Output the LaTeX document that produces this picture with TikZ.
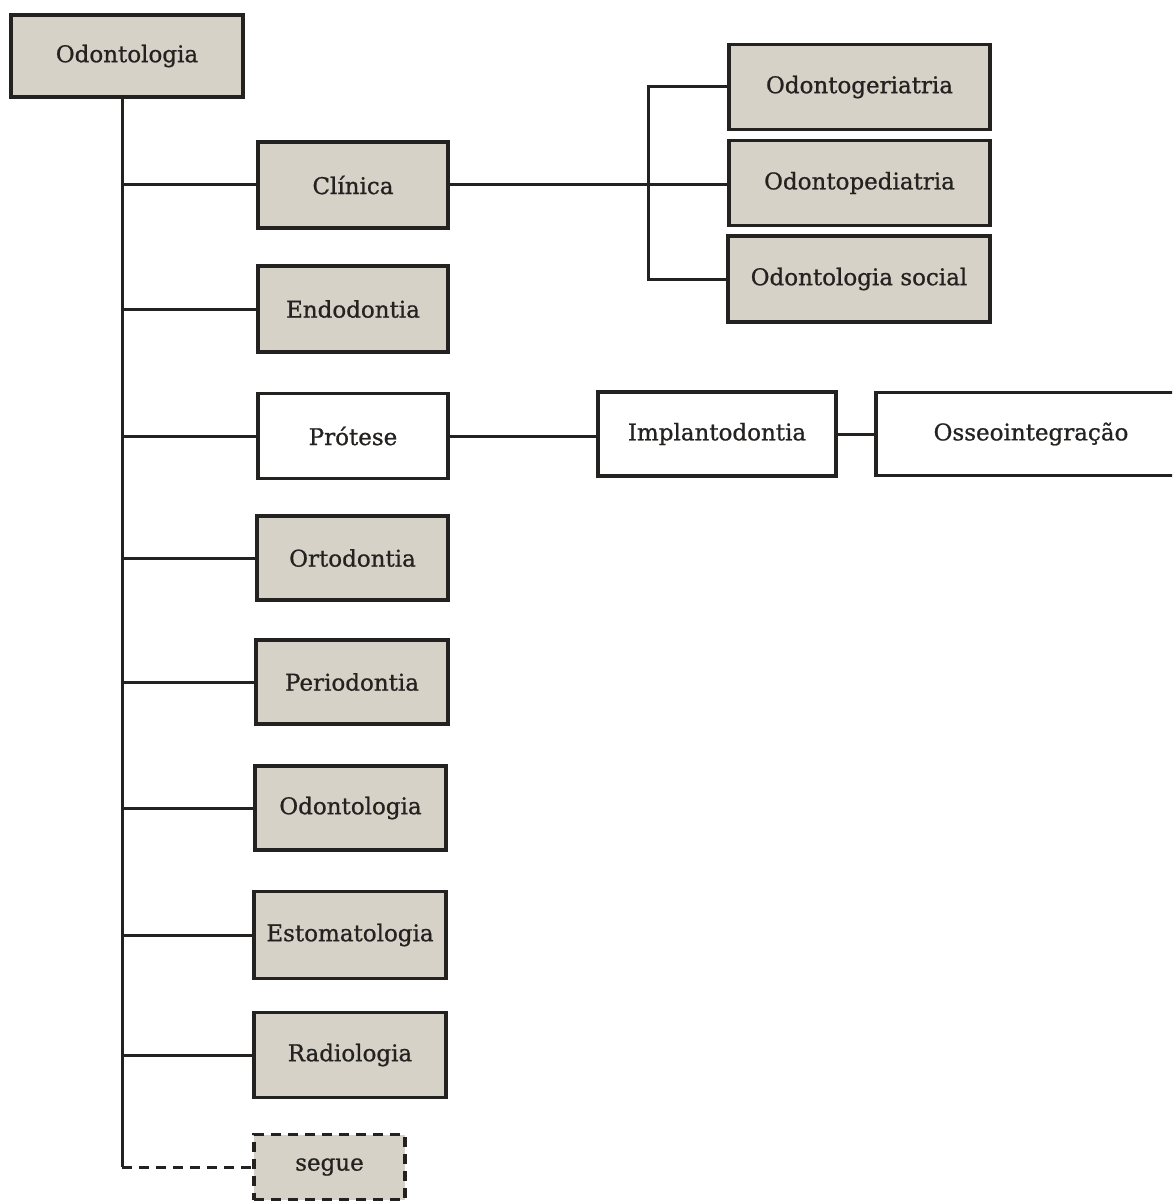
\documentclass[tikz,border=0pt]{standalone}
\usepackage{fontspec}
\setmainfont{DejaVu Serif}
\newfontfamily\boxfont[FakeBold=0.9]{DejaVu Serif}
\definecolor{boxgray}{RGB}{214,210,200}
\definecolor{inkc}{RGB}{36,34,32}
\begin{document}
\begin{tikzpicture}[x=1pt,y=-1pt,
  box/.style={draw=inkc, line width=3.2pt, fill=boxgray, inner sep=0pt,
    font=\boxfont\fontsize{23}{26}\selectfont, text=inkc},
  wbox/.style={box, fill=white},
  conn/.style={draw=inkc, line width=3pt}]
\fill[white] (0,0) rectangle (1172,1201);
\clip (0,0) rectangle (1172,1201);
% root
\node[box, minimum width=232pt, minimum height=82pt] (root) at (127,56) {Odontologia};
% left column
\node[box, minimum width=190pt, minimum height=86pt] (clin) at (353,185) {Clínica};
\node[box, minimum width=190pt, minimum height=86pt] (endo) at (353,309) {Endodontia};
\node[wbox, minimum width=190pt, minimum height=85pt] (prot) at (353,436) {Prótese};
\node[box, minimum width=191pt, minimum height=84pt] (orto) at (352.5,558) {Ortodontia};
\node[box, minimum width=192pt, minimum height=84pt] (peri) at (352,682) {Periodontia};
\node[box, minimum width=191pt, minimum height=84pt] (odo2) at (350.5,808) {Odontologia};
\node[box, minimum width=192pt, minimum height=87pt] (esto) at (350,935) {Estomatologia};
\node[box, minimum width=192pt, minimum height=85pt] (radi) at (350,1055) {Radiologia};
\node[box, dash pattern=on 10pt off 7pt, minimum width=151pt, minimum height=65pt] (segue) at (329.5,1167) {segue};
% right column
\node[box, minimum width=261pt, minimum height=85pt] (ger) at (859.5,87) {Odontogeriatria};
\node[box, minimum width=261pt, minimum height=85pt] (ped) at (859.5,183) {Odontopediatria};
\node[box, minimum width=262pt, minimum height=86pt] (soc) at (859,279) {Odontologia social};
\node[wbox, minimum width=238pt, minimum height=84pt] (impl) at (717,434) {Implantodontia};
\node[wbox, minimum width=310pt, minimum height=83pt] (osse) at (1031,434) {Osseointegração};
% trunk
\coordinate (tr) at (122,0);
\coordinate (br) at (648,0);
\draw[conn] (root.south -| tr) -- (tr |- segue.west);
\foreach \n in {clin,endo,prot,orto,peri,odo2,esto,radi}
  \draw[conn] (tr |- \n.west) -- (\n.west);
\draw[conn, dash pattern=on 10pt off 7pt] (tr |- segue.west) -- (segue.west);
% clinica branch
\draw[conn] (clin.east) -- (clin.east -| ped.west);
\draw[conn] (ger.west) -- (ger.west -| br) -- (soc.west -| br) -- (soc.west);
% protese chain
\draw[conn] (prot.east) -- (prot.east -| impl.west);
\draw[conn] (impl.east) -- (impl.east -| osse.west);
\end{tikzpicture}
\end{document}
